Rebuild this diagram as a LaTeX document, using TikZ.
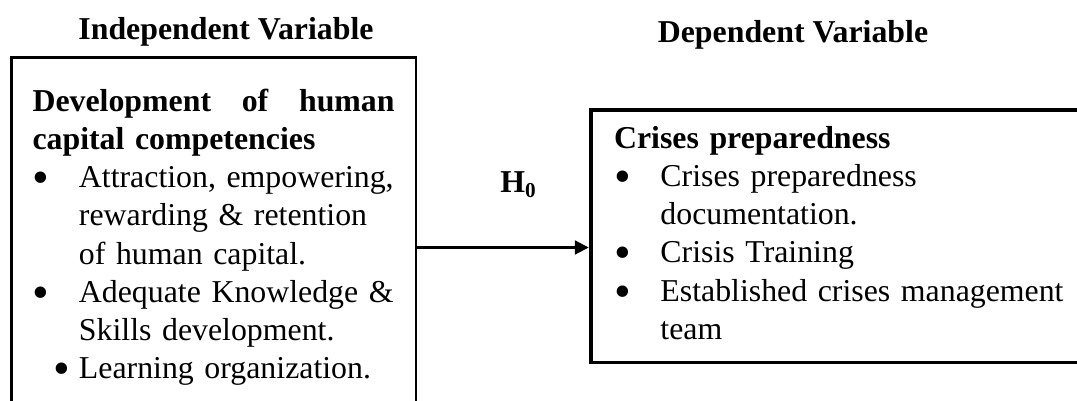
\documentclass[tikz,border=0pt]{standalone}
\usepackage{fontspec}
\usepackage{graphicx}
\setmainfont{Liberation Serif}
\usetikzlibrary{positioning,arrows.meta}

\newcommand{\bdot}{\smash{\raisebox{-2.2pt}{\scalebox{1.5}{\textbullet}}}}
\newcommand{\bitem}[2][0pt]{\hspace*{#1}\makebox[\dimexpr17.5pt-#1\relax][l]{\bdot}#2}
\newcommand{\bcont}[1]{\hspace*{17.5pt}#1}

\begin{document}
\begin{tikzpicture}[x=0.377pt,y=-0.377pt,>={Triangle[length=5.3pt,width=5pt]},
    txt/.style={font=\fontsize{12}{14.4}\selectfont},
    ttl/.style={font=\fontsize{12}{14.4}\selectfont\bfseries, anchor=base},
    varbox/.style={txt, draw, anchor=north west, align=left, inner xsep=8pt}]
  \path[use as bounding box, clip] (0,0) rectangle (1077,401);

  % titles
  \node[ttl] (indep) at (226,40) {Independent Variable};
  \node[ttl] (dep) at (793,43) {Dependent Variable};

  % independent variable box
  \node[varbox, line width=1pt, text width=136.5pt, inner ysep=10.1pt] (lbox) at (10,56.5) {%
    \strut\textbf{Development\hfill of\hfill human}\\
    \textbf{capital competencies}\\
    \bitem{Attraction, empowering,}\\
    \bcont{rewarding \& retention}\\
    \bcont{of human capital.}\\
    \bitem{Adequate Knowledge \&}\\
    \bcont{Skills development.}\\
    \bitem[7.9pt]{Learning organization.}};

  % dependent variable box
  \node[varbox, line width=1.5pt, text width=180pt, inner xsep=8.7pt, inner ysep=4.4pt] (rbox) at (589,108) {%
    \strut\textbf{Crises preparedness}\\
    \bitem{Crises preparedness}\\
    \bcont{documentation.}\\
    \bitem{Crisis Training}\\
    \bitem{Established crises management}\\
    \bcont{team}\strut};

  \node[ttl, anchor=base west] (hyp) at (491,193) {H\textsubscript{0}};

  \coordinate (hy) at (0,247.5);
  \draw[->, line width=1.5pt] (lbox.east |- hy) -- (rbox.west |- hy);
\end{tikzpicture}
\end{document}
